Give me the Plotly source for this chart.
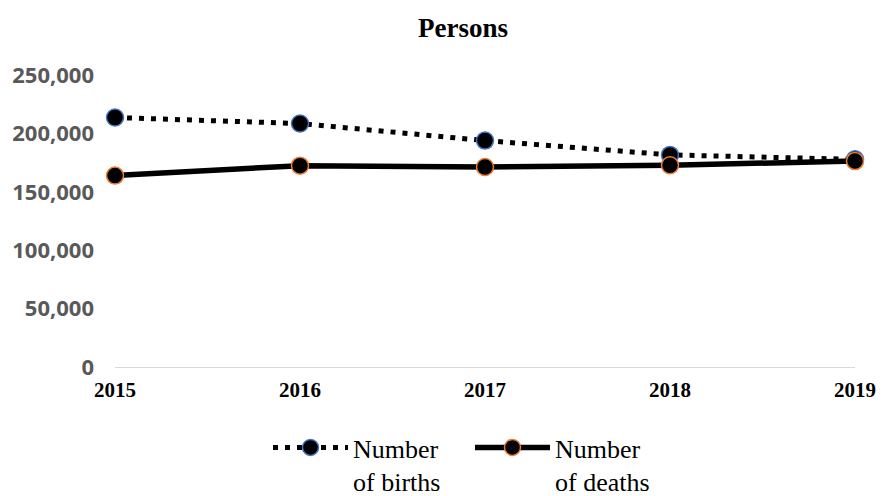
import plotly.graph_objects as go

years = ["2015", "2016", "2017", "2018", "2019"]
births = [213598, 208440, 193844, 181601, 177767]
deaths = [163858, 172405, 171242, 172784, 176296]
y_ticks = [0, 50000, 100000, 150000, 200000, 250000]
y_tick_labels = ["0", "50,000", "100,000", "150,000", "200,000", "250,000"]

x_idx = list(range(len(years)))

fig = go.Figure()
fig.add_trace(go.Scatter(
    x=x_idx, y=births, name="Number<br>of births", mode="lines+markers",
    line=dict(color="black", width=5, dash="5px,7px"),
    marker=dict(size=17, color="black", line=dict(color="#4472C4", width=1.5)),
    cliponaxis=False,
))
fig.add_trace(go.Scatter(
    x=x_idx, y=deaths, name="Number<br>of deaths", mode="lines+markers",
    line=dict(color="black", width=5.5),
    marker=dict(size=17, color="black", line=dict(color="#ED7D31", width=1.5)),
    cliponaxis=False,
))

fig.update_layout(
    width=888, height=496,
    margin=dict(l=113, r=28, t=75, b=129),
    paper_bgcolor="white", plot_bgcolor="white",
    title=dict(text="<b>Persons</b>", x=463 / 888, xanchor="center", y=1 - 28 / 496, yanchor="middle",
               font=dict(family="Liberation Serif", size=27, color="black")),
    showlegend=True,
    legend=dict(orientation="h", xref="container", yref="container",
                x=268 / 888, xanchor="left", y=1 - 424 / 496, yanchor="top",
                font=dict(family="Liberation Serif", size=26, color="black"),
                valign="top", itemwidth=75, entrywidth=112, bgcolor="rgba(0,0,0,0)"),
    xaxis=dict(range=[0, 4], tickvals=x_idx, ticktext=years, showgrid=False, zeroline=False,
               showline=True, linecolor="#D9D9D9", linewidth=1, ticks="",
               tickfont=dict(family="Liberation Serif", size=21, color="black", weight="bold"),
               ticklabelstandoff=4),
    yaxis=dict(range=[0, 250000], tickvals=y_ticks, ticktext=y_tick_labels, showgrid=False,
               zeroline=False, showline=False, ticks="",
               tickfont=dict(family="Open Sans", size=22, color="#595959", weight="bold"),
               ticklabelstandoff=20),
)

fig.write_html("out.html", config={"displayModeBar": False},
               post_script="document.body.style.margin='0';document.body.style.padding='0';")
